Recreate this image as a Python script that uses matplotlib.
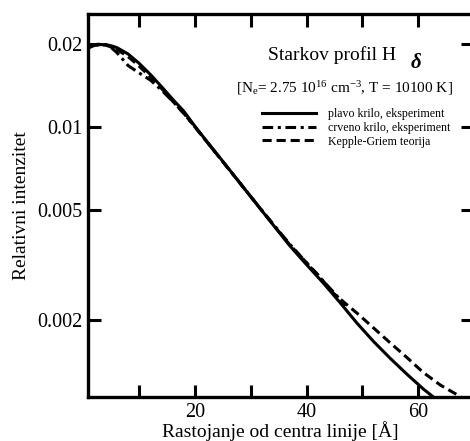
import matplotlib
matplotlib.use("Agg")
import matplotlib.pyplot as plt
from matplotlib.ticker import FixedLocator, NullLocator, FixedFormatter

plt.rcParams['font.family'] = ['Liberation Serif', 'DejaVu Serif']
plt.rcParams['mathtext.fontset'] = 'custom'
plt.rcParams['mathtext.rm'] = 'Liberation Serif'
plt.rcParams['mathtext.it'] = 'Liberation Serif:italic'

# --- data ---
x_plavo = [1, 2, 3, 4, 5, 6, 8, 10, 12, 14, 16, 18, 20, 22, 25, 28, 31, 34, 37, 40, 43, 46, 49, 52, 55, 58, 61, 63]
y_plavo = [0.0194, 0.0198, 0.0199, 0.0199, 0.0197, 0.0194, 0.0184, 0.0170, 0.0155, 0.0140, 0.0126, 0.0114,
           0.01005, 0.00893, 0.00750, 0.00629, 0.00527, 0.00442, 0.00371, 0.00317, 0.00272, 0.00231,
           0.00195, 0.00167, 0.00145, 0.00127, 0.00112, 0.00104]

x_crveno = [1, 2, 3, 4, 5, 6, 8, 10, 12, 14, 16, 18, 20, 22, 25, 28, 31, 34, 37, 40, 42, 45, 47]
y_crveno = [0.0197, 0.0199, 0.0200, 0.0199, 0.0194, 0.0186, 0.0167, 0.0157, 0.0148, 0.0136, 0.0124, 0.0112,
            0.0100, 0.00890, 0.00748, 0.00628, 0.00528, 0.00445, 0.00376, 0.00322, 0.00290, 0.00250, 0.00225]

x_teorija = [1, 2, 3, 4, 5, 6, 8, 10, 12, 14, 16, 18, 20, 22, 25, 28, 31, 34, 37, 40, 42, 44.8, 47, 49.1, 52, 55, 58, 60.9, 64, 67, 70]
y_teorija = [0.0196, 0.0198, 0.0199, 0.0198, 0.0195, 0.0191, 0.0180, 0.0166, 0.0152, 0.0138, 0.0124, 0.0112,
             0.0100, 0.00890, 0.00748, 0.00628, 0.00527, 0.00443, 0.00374, 0.00322, 0.00292, 0.00250,
             0.00229, 0.00211, 0.00187, 0.00165, 0.00146, 0.00129, 0.00116, 0.00107, 0.00098]

y_ticks = [0.02, 0.01, 0.005, 0.002]
y_ticklabels = ['0.02', '0.01', '0.005', '0.002']
x_ticks = [10, 20, 30, 40, 50, 60]
x_ticklabels = ['', '20', '', '40', '', '60']

W, H = 470, 441
fig = plt.figure(figsize=(W / 100, H / 100), dpi=100)
ax = fig.add_axes([88 / W, 1 - 397 / H, (473 - 88) / W, (397 - 14) / H])

lw = 2.2
ax.plot(x_plavo, y_plavo, color='black', lw=lw, ls='-', label='plavo krilo, eksperiment')
ax.plot(x_crveno, y_crveno, color='black', lw=lw, ls=(0, (3.5, 1.5, 1.0, 1.5)), label='crveno krilo, eksperiment')
ax.plot(x_teorija, y_teorija, color='black', lw=lw, ls=(0, (3.0, 1.6)), label='Kepple-Griem teorija')

ax.set_yscale('log')
ax.set_xlim(0.8, 69.85)
ax.set_ylim(0.00105, 0.0257)

ax.yaxis.set_major_locator(FixedLocator(y_ticks))
ax.yaxis.set_major_formatter(FixedFormatter(y_ticklabels))
ax.yaxis.set_minor_locator(NullLocator())
ax.xaxis.set_major_locator(FixedLocator(x_ticks))
ax.xaxis.set_major_formatter(FixedFormatter(x_ticklabels))
ax.xaxis.set_minor_locator(NullLocator())

ax.tick_params(axis='both', which='major', direction='in', length=9, width=2.2,
               top=True, right=True, labelsize=14.5, pad=4)

for s in ax.spines.values():
    s.set_linewidth(2.4)

ax.set_ylabel('Relativni intenzitet', fontsize=14, labelpad=5)
ax.set_xlabel('Rastojanje od centra linije [Å]', fontsize=14, labelpad=0)

def fx(px):
    return px / W

def fy(py):
    return 1 - py / H

fig.text(fx(268), fy(55), 'Starkov profil H', fontsize=14, ha='left', va='center')
fig.text(fx(411), fy(63), 'δ', fontsize=15, ha='left', va='center', style='italic', weight='bold')
fig.text(fx(236), fy(88), r'[N$_{\rm e}$= 2.75 10$^{16}$ cm$^{-3}$, T = 10100 K]', fontsize=11,
         ha='left', va='center')

leg = ax.legend(loc='upper left', bbox_to_anchor=(fx(262), fy(108)), bbox_transform=fig.transFigure,
                frameon=False, fontsize=8.6, handlelength=4.5, handletextpad=1.0,
                labelspacing=0.15, borderpad=0, borderaxespad=0)

fig.savefig('out.png', dpi=100)
